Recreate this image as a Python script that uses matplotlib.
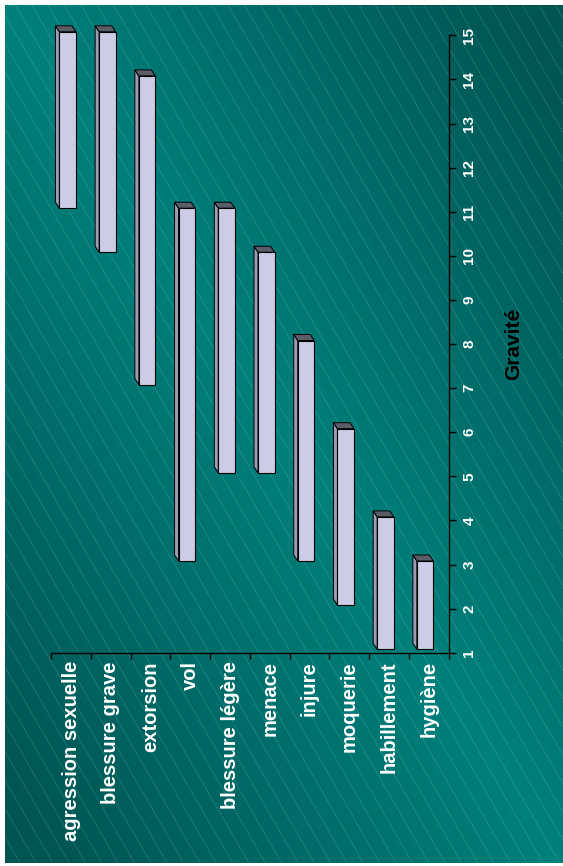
import matplotlib
matplotlib.use("Agg")
import matplotlib.pyplot as plt
import numpy as np
from matplotlib.patches import Polygon

plt.rcParams['font.family'] = ['Liberation Sans', 'DejaVu Sans']

categories = ['agression sexuelle', 'blessure grave', 'extorsion', 'vol', 'blessure légère',
              'menace', 'injure', 'moquerie', 'habillement', 'hygiène']
low = [11, 10, 7, 3, 5, 5, 3, 2, 1, 1]
high = [15, 15, 14, 11, 11, 10, 8, 6, 4, 3]
value_ticks = list(range(1, 16))
axis_title = 'Gravité'

W, H = 563, 866
fig = plt.figure(figsize=(W / 100, H / 100), dpi=100)
fig.patch.set_facecolor('white')

# background: teal gradient, darker towards top-right and bottom-left corners
bg = fig.add_axes([5 / W, 3 / H, (W - 5) / W, (H - 8) / H])
gx, gy = np.meshgrid(np.linspace(0, 1, 200), np.linspace(0, 1, 300))
t = np.clip(np.abs(gx - gy) * 1.1, 0, 1)[..., None]
light = np.array([0x00, 0x80, 0x7c]) / 255
dark = np.array([0x00, 0x55, 0x52]) / 255
bg.imshow(light * (1 - t) + dark * t, extent=[0, W, H, 0], aspect='auto')
for c in np.arange(-600, W + 20, 16.5):
    bg.plot([c, c + 0.577 * H], [0, H], color='#b0ece8', lw=0.5, alpha=0.32,
            linestyle=(0, (2, 1)))
bg.set_xlim(0, W)
bg.set_ylim(H, 0)
bg.axis('off')

ax = fig.add_axes([51.3 / W, (H - 652.7) / H, 397.2 / W, 617.4 / H])
ax.patch.set_alpha(0)
ax.set_xlim(-0.5, len(categories) - 0.5)
ax.set_ylim(1, 15)

px = 1 / 39.72   # one pixel in category units
py = 1 / 44.1    # one pixel in value units
w = 16.5 * px
dx, dy = 4 * px, 6 * py
for i, (lo, hi) in enumerate(zip(low, high)):
    xc = i - 3.5 * px
    b = lo + 3.5 * py
    tp = hi + 3.5 * py
    x0 = xc - w / 2
    side = Polygon([(x0, b), (x0, tp), (x0 - dx, tp + dy), (x0 - dx, b + dy)],
                   closed=True, facecolor='#9c9cb4', edgecolor='black', lw=0.7, clip_on=False)
    cap = Polygon([(x0, tp), (x0 + w, tp), (x0 + w - dx, tp + dy), (x0 - dx, tp + dy)],
                  closed=True, facecolor='#5c5c68', edgecolor='black', lw=0.7, clip_on=False)
    ax.add_patch(side)
    ax.add_patch(cap)
    ax.bar(xc, hi - lo, bottom=b, width=w, color='#ccccE6', edgecolor='black', lw=0.8,
           clip_on=False, zorder=3)

for s in ['left', 'top']:
    ax.spines[s].set_visible(False)
for s in ['right', 'bottom']:
    ax.spines[s].set_color('black')
    ax.spines[s].set_linewidth(1.0)

ax.set_xticks(range(len(categories)))
ax.set_xticklabels(categories, rotation=90, fontsize=14.5, fontweight='bold', color='white')
ax.set_xticks(np.arange(-0.5, len(categories), 1), minor=True)
ax.tick_params(axis='x', which='major', length=0, pad=6)
ax.tick_params(axis='x', which='minor', length=4.5, width=1, direction='out', color='black')

ax.yaxis.tick_right()
ax.set_yticks(value_ticks)
ax.set_yticklabels([str(v) for v in value_ticks], rotation=90, va='center',
                   fontsize=11, fontweight='bold', color='white')
ax.tick_params(axis='y', length=5, width=1, direction='out', color='black', pad=5)
ax.yaxis.set_label_position('right')
ax.set_ylabel(axis_title, rotation=90, fontsize=15, fontweight='bold', color='black', labelpad=20)

fig.savefig('out.png', dpi=100)
